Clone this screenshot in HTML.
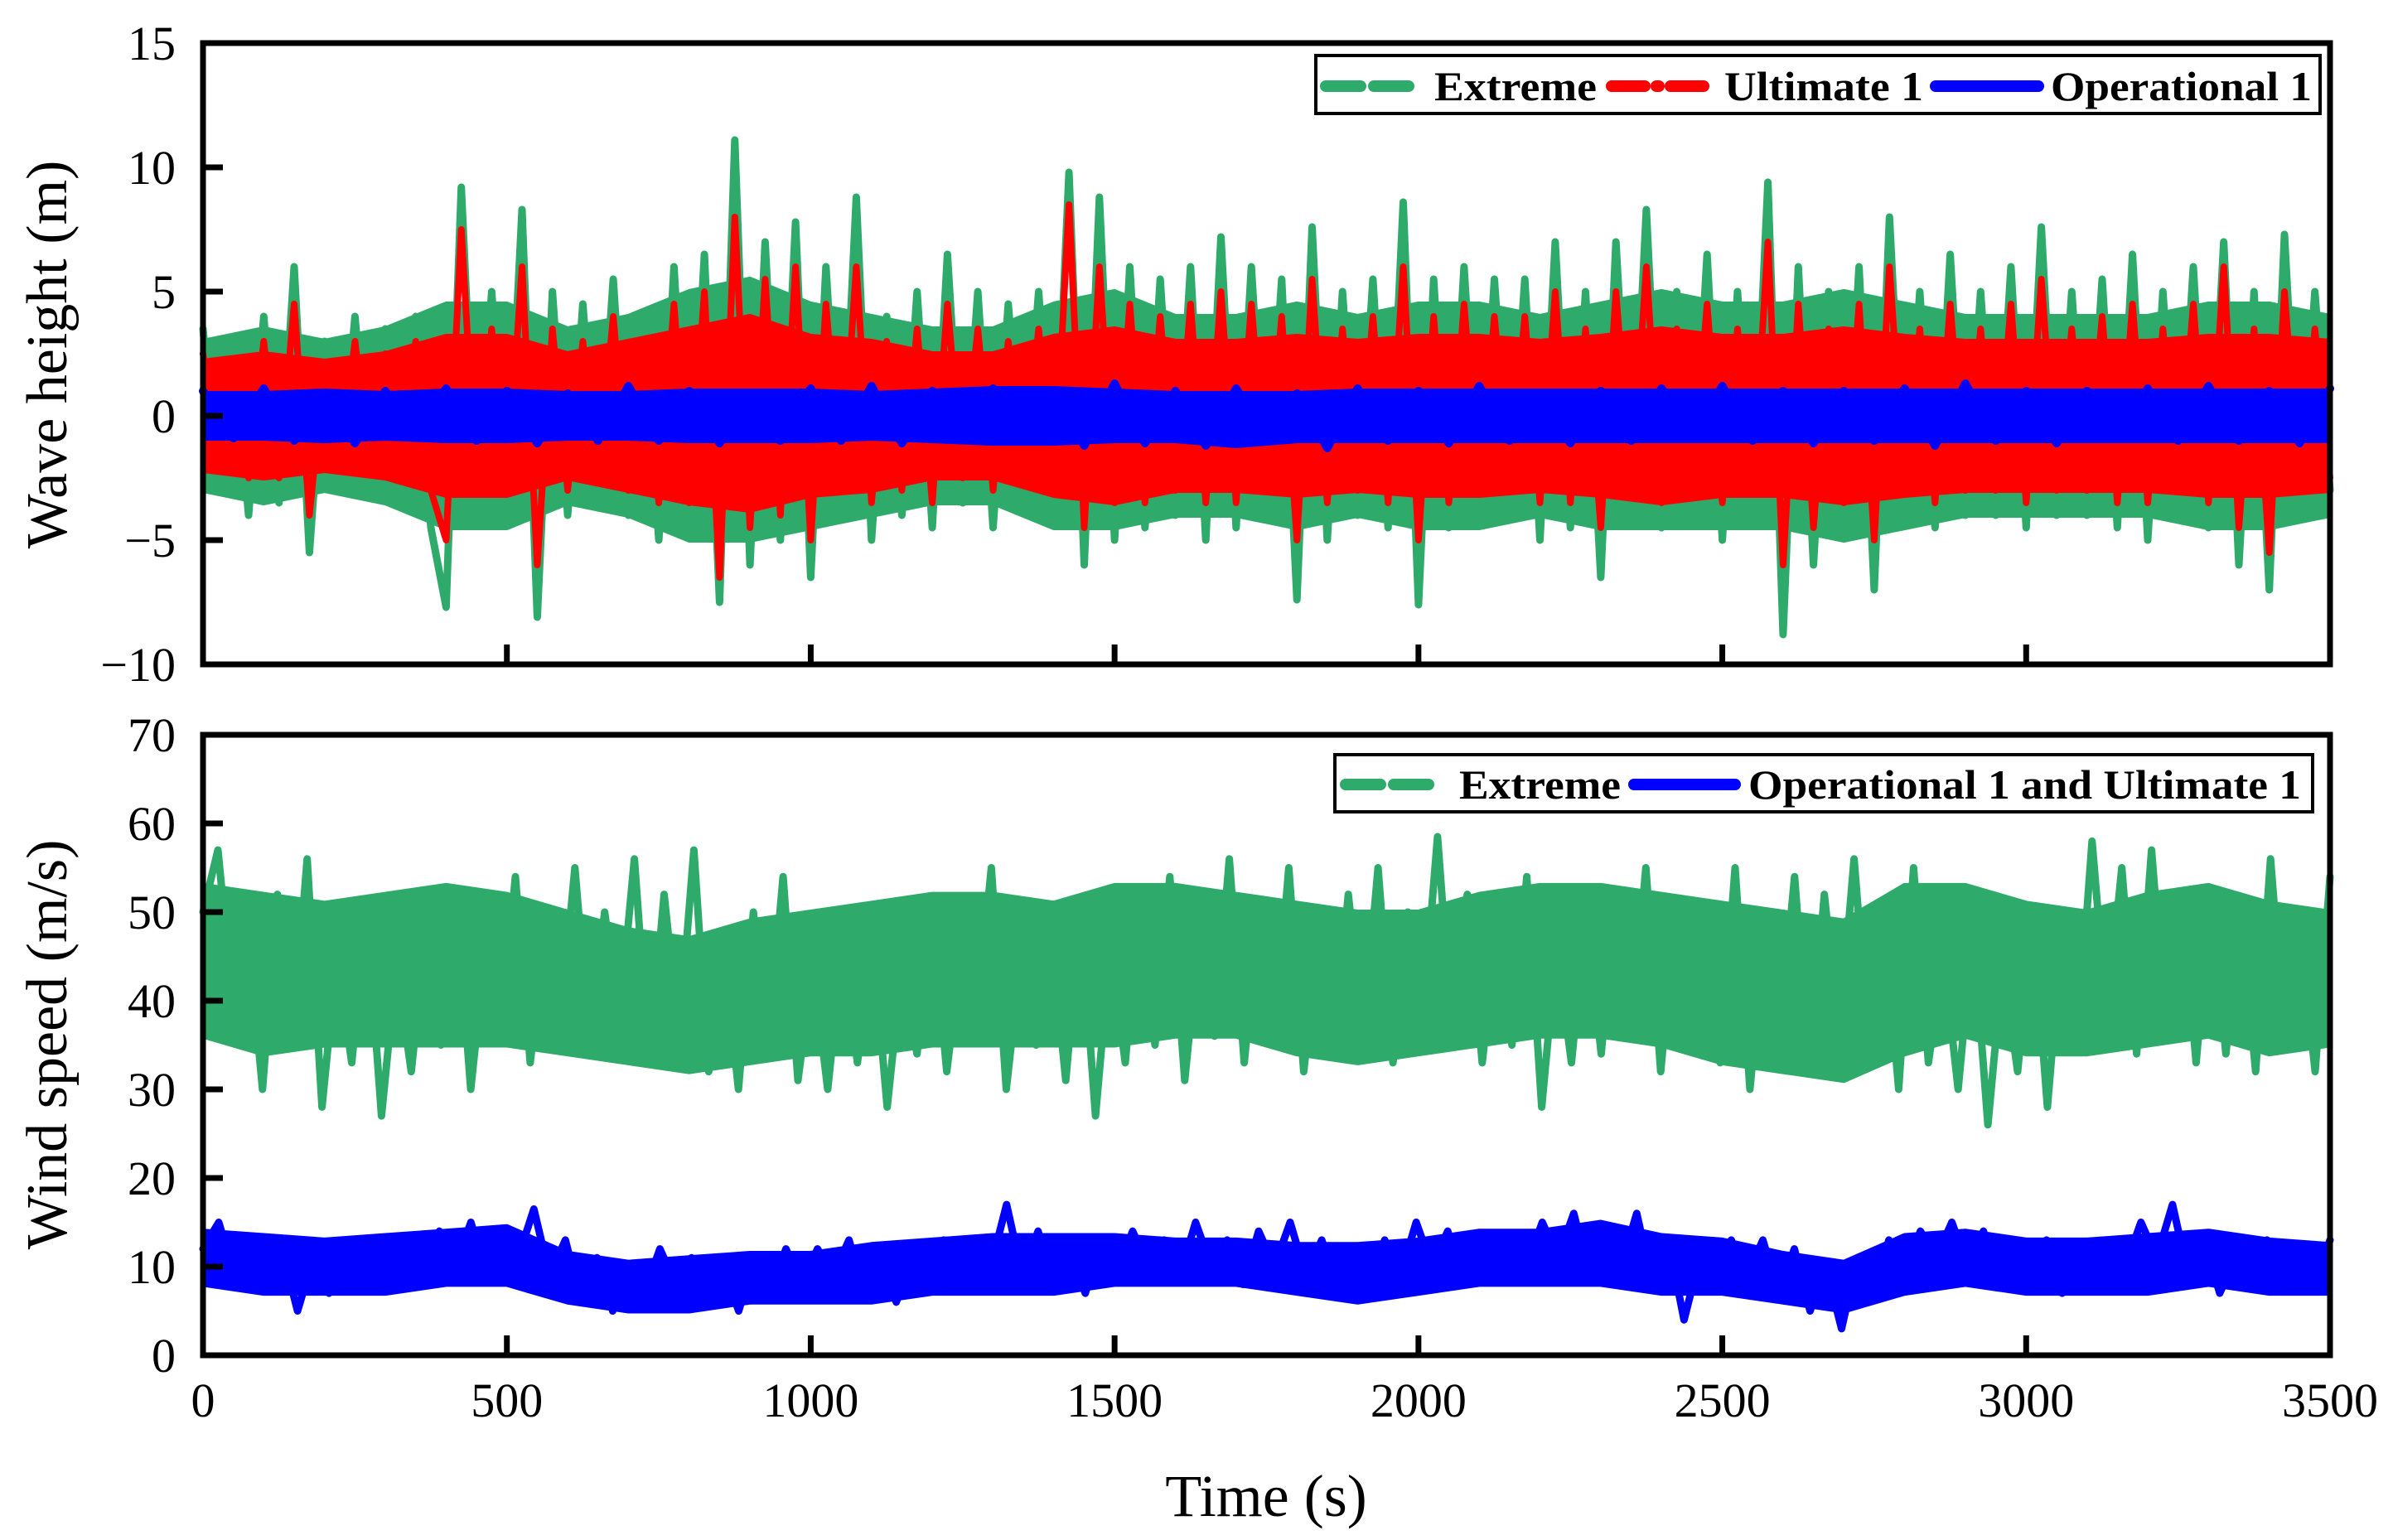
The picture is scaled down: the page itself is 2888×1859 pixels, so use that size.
<!DOCTYPE html>
<html><head><meta charset="utf-8"><style>
html,body{margin:0;padding:0;background:#fff;}
svg{display:block;font-family:"Liberation Serif",serif;}
</style></head><body>
<svg id="chart" width="2888" height="1859" viewBox="0 0 2888 1859" xmlns="http://www.w3.org/2000/svg">
<rect x="0" y="0" width="2888" height="1859" fill="#fff"/>
<g id="top-series"></g>
<g id="bot-series"></g>
<g id="axes"></g>
<text transform="translate(80,428) rotate(-90)" text-anchor="middle" font-size="70">Wave height (m)</text>
<text transform="translate(80,1261) rotate(-90)" text-anchor="middle" font-size="70">Wind speed (m/s)</text>
<text x="1528" y="1830" text-anchor="middle" font-size="72">Time (s)</text>
<g>
<rect x="1588" y="67" width="1212" height="70" fill="#fff" stroke="#000" stroke-width="4"/>
<line x1="1600" y1="104" x2="1710" y2="104" stroke="#2eaa6a" stroke-width="14" stroke-dasharray="42,16" stroke-linecap="round"/>
<text x="1731" y="121" font-size="50" font-weight="bold" textLength="196" lengthAdjust="spacingAndGlyphs">Extreme</text>
<line x1="1945" y1="104" x2="2070" y2="104" stroke="#ff0000" stroke-width="14" stroke-dasharray="40,14,3,14" stroke-linecap="round"/>
<text x="2081" y="121" font-size="50" font-weight="bold" textLength="240" lengthAdjust="spacingAndGlyphs">Ultimate 1</text>
<line x1="2336" y1="104" x2="2460" y2="104" stroke="#0000ff" stroke-width="14" stroke-linecap="round"/>
<text x="2475" y="121" font-size="50" font-weight="bold" textLength="315" lengthAdjust="spacingAndGlyphs">Operational 1</text>
</g>
<g>
<rect x="1611" y="911" width="1180" height="69" fill="#fff" stroke="#000" stroke-width="4"/>
<line x1="1624" y1="947" x2="1738" y2="947" stroke="#2eaa6a" stroke-width="14" stroke-dasharray="42,16" stroke-linecap="round"/>
<text x="1761" y="964" font-size="50" font-weight="bold" textLength="195" lengthAdjust="spacingAndGlyphs">Extreme</text>
<line x1="1972" y1="947" x2="2094" y2="947" stroke="#0000ff" stroke-width="14" stroke-linecap="round"/>
<text x="2110" y="964" font-size="50" font-weight="bold" textLength="667" lengthAdjust="spacingAndGlyphs">Operational 1 and Ultimate 1</text>
</g>
</svg>
<script>
const xTicks=[0,500,1000,1500,2000,2500,3000,3500];
const waveTicks=[15,10,5,0,-5,-10];
const windTicks=[0,10,20,30,40,50,60,70];
const waveExtreme=[3.5,-3,3,-4,4,-3.5,6,-5.5,3,-3,4,-3,3.5,-3.5,4,-4.5,-7.7,9.2,-4,5,-4,8.3,-8.1,5,-4,4.5,-3.5,5.5,-4,4,-5,6,-4.5,6.5,-7.5,11.1,-6,7,-5,7.8,-6.5,6,-4,8.8,-5,4,-4,5,-4.5,6.5,-3.5,5,-4.5,4.5,-3,5,-4,9.8,-6,8.8,-5,6,-4.5,5.5,-4,6,-5,7.2,-4.5,6,-4,5.5,-7.4,7.6,-5,5,-4,5.5,-4.5,8.6,-7.6,5.5,-4.5,6,-4,5.5,-3.5,5.5,-5,7,-4.5,5,-6.5,7,-4,8.3,-4.5,5,-4,6.5,-5,5,-4,9.4,-8.8,6,-6,5,-4.5,6,-7,8,-4,5,-4.5,6.5,-4,5,-4,6,-4.5,7.6,-4,5,-4,5.5,-4.5,6.5,-5,5,-4,6,-4.5,7,-6,5,-7,7.3,-4,5,-3];
const waveUltimate=[2.5,-2,2,-2.5,3,-2.5,4.5,-4,2,-2,3,-2,2.5,-2.5,3,-3,-5,7.5,-3,3.5,-3,6,-6,3.5,-3,3,-2.5,4,-3,3,-3.5,4.5,-3.5,5,-6.5,8,-4.5,5.5,-4,6,-5,4.5,-3,6,-3.5,3,-3,3.5,-3.5,4.5,-2.5,3.5,-3,3,-2.5,3.5,-3,8.5,-4.5,6,-3.5,4.5,-3.5,4,-3,4.5,-3.5,5,-3.5,4.5,-3,4,-5,5.5,-3.5,3.5,-3,4,-3.5,6,-5,4,-3.5,4.5,-3,4,-2.5,4,-3.5,5,-3.5,3.5,-4.5,5,-3,6,-3.5,3.5,-3,4.5,-3.5,3.5,-3,7,-6,4.5,-4.5,3.5,-3.5,4.5,-5,6,-3,3.5,-3.5,4.5,-3,3.5,-3,4.5,-3.5,5.5,-3,3.5,-3,4,-3.5,4.5,-3.5,3.5,-3,4.5,-3.5,6,-4.5,3.5,-5.5,5,-3,3.5,-2.5];
const waveOperational=[1,-0.9,1.1,-1,0.9,-1.1,1,-0.8,1.1,-1,1,-1.1,0.9,-1,1.2,-1,1,-1.1,0.9,-1,1.1,-1,1.2,-1.1,1,-0.9,1.1,-1,1,-1.2,1.3,-1.1,1,-1.2,1.1,-1,0.9,-1.3,1.1,-1,1,-1.1,1.2,-1,0.9,-1.1,1,-1,1.1,-0.9,1.2,-1,1,-1.1,1,-1,1.1,-1.2,1.3,-1,1,-1.1,1,-0.9,1.1,-1,1.2,-1,1,-1.1,1.1];
const windExtreme=[50,57,40,48,30,52,35,56,28,45,33,50,27,44,32,48,35,52,30,46,36,54,33,48,37,55,35,50,38,56,33,52,36,57,32,46,30,50,35,54,31,44,30,46,33,47,28,44,34,50,32,46,38,55,30,45,35,48,31,50,27,46,33,52,35,54,31,48,36,56,33,50,35,55,32,48,34,52,36,55,33,50,38,58.5,36,52,33,48,35,54,28,46,33,50,34,52,36,55,32,50,35,48,33,55,30,48,36,54,32,52,36,56,35,50,30,55,33,45,30,48,26,44,32,50,28,48,35,58,38,55,34,57,36,52,33,52,34,50,32,56,35,48,32,54];
const windOperational=[12,15,9,13,8,12,5,11,7,12,9,13,8,11,9,14,10,15,9,14,11,16.5,9,13,6,11,5,10,7,12,8,11,6,10,5,11,7,12,8,12,9,13,7,11,6,11,8,13,9,13,10,17,9,14,8,12,7,13,9,14,10,13,9,15,10,13,8,14,10,15,9,13,8,12,7,13,9,15,10,14,8,12,9,13,10,15,11,16,9,14,10,16,8,13,4,11,8,13,9,13,7,12,5,10,3,11,7,13,9,14,11,15,10,14,8,12,9,13,7,11,9,13,10,15,11,17,9,13,7,11,8,13,9,12,8,13];
// typical band envelopes (every 100 s)
const waveExtremeBandHi=[3,3.5,3,3.5,4.5,4.5,3.5,4,5,5.5,4.5,4,3.5,3.5,4.5,5,4,4,4.5,4,4.5,4.5,4,4.5,5,4.5,4.5,5,4.5,4,4,4,4,4.5,4.5,4];
const waveExtremeBandLo=[-3,-3.5,-3,-3.5,-4.5,-4.5,-3.5,-4,-5,-5,-4.5,-4,-3.5,-3.5,-4.5,-4.5,-4,-4,-4.5,-4,-4.5,-4.5,-4,-4.5,-4.5,-4.5,-4.5,-5,-4.5,-4,-4,-4,-4,-4.5,-4.5,-4];
const waveUltimateBandHi=[2.2,2.5,2.2,2.5,3.2,3.2,2.5,3,3.5,4,3.2,3,2.5,2.5,3.2,3.5,3,3,3.2,3,3.2,3.2,3,3.2,3.5,3.2,3.2,3.5,3.2,3,3,3,3,3.2,3.2,3];
const waveUltimateBandLo=[-2.2,-2.5,-2.2,-2.5,-3.2,-3.2,-2.5,-3,-3.5,-3.8,-3.2,-3,-2.5,-2.5,-3.2,-3.5,-3,-3,-3.2,-3,-3.2,-3.2,-3,-3.2,-3.5,-3.2,-3.2,-3.5,-3.2,-3,-3,-3,-3,-3.2,-3.2,-3];
const waveOperationalBandHi=[0.9,0.9,1,0.9,1,1,0.9,0.9,1,1,1,0.9,1,1.1,1.1,1,0.9,0.9,0.9,1,1,1,1,1,1,1,1,1,1,1,1,1,1,1,1,1];
const waveOperationalBandLo=[-0.9,-0.9,-1,-0.9,-1,-1,-0.9,-0.9,-1,-1,-1,-0.9,-1,-1.1,-1.1,-1,-1,-1.2,-1,-1,-1,-1,-1,-1,-1,-1,-1,-1,-1,-1,-1,-1,-1,-1,-1,-1];
const windExtremeBandHi=[53,52,51,52,53,52,50,48,47,49,50,51,52,52,51,53,53,52,51,50,50,52,53,53,52,51,50,49,53,53,51,50,52,53,51,50];
const windExtremeBandLo=[36,34,35,35,35,35,34,33,32,33,34,34,35,35,35,35,36,36,34,33,34,35,36,36,35,33,32,31,34,36,34,34,35,36,34,35];
const windOperationalBandHi=[14,13.5,13,13.5,14,14.5,11.5,10.5,11,11.5,11.5,12.5,13,13.5,13.5,13.5,13,13,12.5,12.5,13,14,14,15,13.5,13,11.5,10.5,13.5,14,13,13,13.5,14,13,12.5];
const windOperationalBandLo=[8,7,7,7,8,8,6,5,5,6,6,6,7,7,7,8,8,8,7,6,7,8,8,8,7,7,6,5,7,8,7,7,7,8,7,7];

const NS="http://www.w3.org/2000/svg";
const L=245,R=2812,T1=52,B1=802,T2=887,B2=1636;
const xS=t=>L+(t/3500)*(R-L);
const yW=v=>B1-(v+10)/25*(B1-T1);
const yV=v=>B2-v/70*(B2-T2);
function mk(tag,attrs,parent){const e=document.createElementNS(NS,tag);for(const k in attrs)e.setAttribute(k,attrs[k]);parent.appendChild(e);return e;}
function band(hi,lo,yf,color,parent,name){
  const n=hi.length;
  const fx=i=>xS(i*3500/(n-1)).toFixed(1);
  let d=hi.map((v,i)=>(i?'L':'M')+fx(i)+','+yf(v).toFixed(1)).join('');
  for(let i=n-1;i>=0;i--)d+='L'+fx(i)+','+yf(lo[i]).toFixed(1);
  d+='Z';
  const p=mk('path',{d:d,fill:color,stroke:color,'stroke-width':6,'stroke-linejoin':'round'},parent);
  
  
}
function series(arr,yf,color,w,parent,name){
  const n=arr.length;
  const d=arr.map((v,i)=>(i?'L':'M')+xS(i*3500/(n-1)).toFixed(1)+','+yf(v).toFixed(1)).join('');
  const p=mk('path',{d:d,fill:'none',stroke:color,'stroke-width':w,'stroke-linejoin':'round','stroke-linecap':'round'},parent);
  
  
}
const tg=document.getElementById('top-series'),bg=document.getElementById('bot-series'),ax=document.getElementById('axes');
band(waveExtremeBandHi,waveExtremeBandLo,yW,'#2eaa6a',tg,'wave-extreme-band');
series(waveExtreme,yW,'#2eaa6a',9,tg,'wave-extreme-line');
band(waveUltimateBandHi,waveUltimateBandLo,yW,'#ff0000',tg,'wave-ultimate-band');
series(waveUltimate,yW,'#ff0000',8,tg,'wave-ultimate-line');
band(waveOperationalBandHi,waveOperationalBandLo,yW,'#0000ff',tg,'wave-operational-band');
series(waveOperational,yW,'#0000ff',10,tg,'wave-operational-line');
band(windExtremeBandHi,windExtremeBandLo,yV,'#2eaa6a',bg,'wind-extreme-band');
series(windExtreme,yV,'#2eaa6a',9,bg,'wind-extreme-line');
band(windOperationalBandHi,windOperationalBandLo,yV,'#0000ff',bg,'wind-operational-band');
series(windOperational,yV,'#0000ff',9,bg,'wind-operational-line');

[[T1,B1],[T2,B2]].forEach(([t,b],pi)=>{
  const fr=mk('rect',{x:L,y:t,width:R-L,height:b-t,fill:'none',stroke:'#000','stroke-width':7},ax);
  
  
  xTicks.forEach(v=>{
    const tk=mk('line',{x1:xS(v),x2:xS(v),y1:b,y2:b-24,stroke:'#000','stroke-width':7},ax);
    
    
    if(pi===1){
      const tx=mk('text',{x:xS(v),y:1710,'text-anchor':'middle','font-size':58},ax);
      tx.textContent=v;
      
      
    }
  });
});
waveTicks.forEach(v=>{
  const tk=mk('line',{x1:L,x2:L+24,y1:yW(v),y2:yW(v),stroke:'#000','stroke-width':7},ax);
  
  
  const tx=mk('text',{x:212,y:yW(v)+20,'text-anchor':'end','font-size':58},ax);
  tx.textContent=v<0?'\u2212'+(-v):v;
  
  
});
windTicks.forEach(v=>{
  const tk=mk('line',{x1:L,x2:L+24,y1:yV(v),y2:yV(v),stroke:'#000','stroke-width':7},ax);
  
  
  const tx=mk('text',{x:212,y:yV(v)+20,'text-anchor':'end','font-size':58},ax);
  tx.textContent=v;
  
  
});
</script>
</body></html>
